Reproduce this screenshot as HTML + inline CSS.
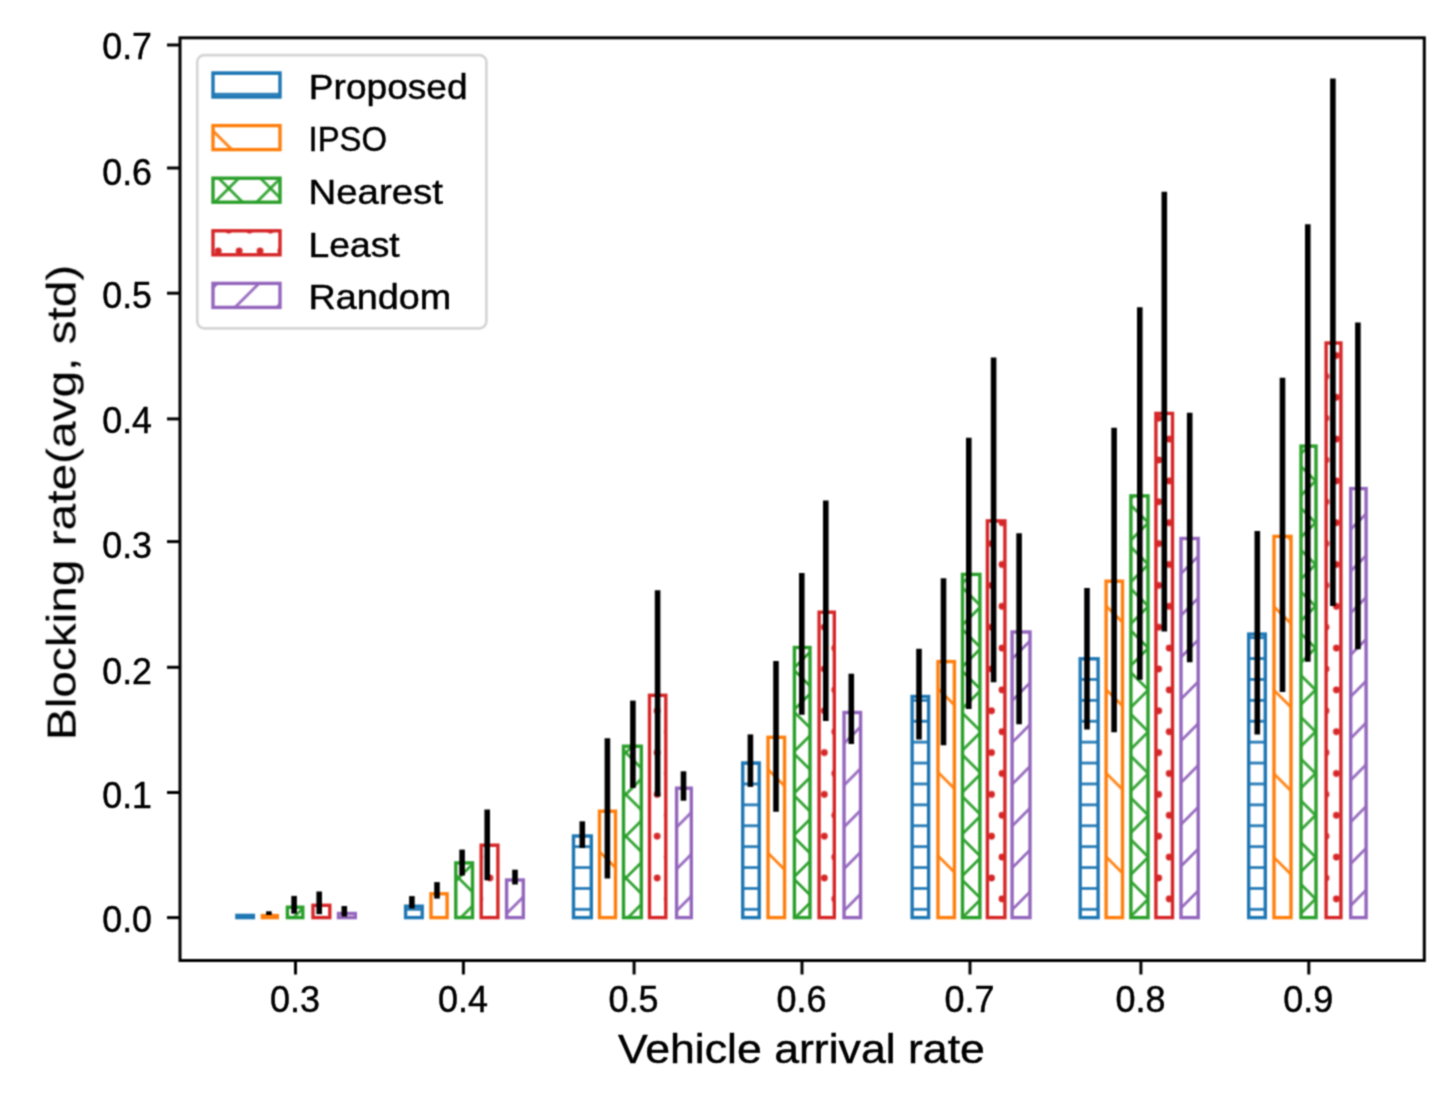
<!DOCTYPE html>
<html><head><meta charset="utf-8"><title>Blocking rate chart</title>
<style>html,body{margin:0;padding:0;background:#fff;}body{width:1455px;height:1100px;overflow:hidden;}svg{display:block;}
text{font-family:"Liberation Sans",sans-serif;}</style></head>
<body>
<svg width="1455" height="1100" viewBox="0 0 1455 1100">
<defs>
<pattern id="hb" patternUnits="userSpaceOnUse" x="1315.5" y="773.5" width="20.9" height="20.9"><line x1="-1" y1="10.45" x2="21.9" y2="10.45" stroke="#1f77b4" stroke-width="2.7"/></pattern>
<pattern id="ho" patternUnits="userSpaceOnUse" x="1315.5" y="773.5" width="83.6" height="83.6"><path d="M-41.8,0 L83.6,125.4 M0,-41.8 L125.4,83.6" stroke="#ff7f0e" stroke-width="2.7" fill="none"/></pattern>
<pattern id="hg" patternUnits="userSpaceOnUse" x="1315.5" y="773.5" width="41.8" height="41.8"><path d="M-20.9,-20.9 L62.7,62.7 M-20.9,20.9 L20.9,62.7 M20.9,-20.9 L62.7,20.9 M-20.9,62.7 L62.7,-20.9 M-20.9,20.9 L20.9,-20.9 M20.9,62.7 L62.7,20.9" stroke="#2ca02c" stroke-width="2.7" fill="none"/></pattern>
<pattern id="hr" patternUnits="userSpaceOnUse" x="1315.5" y="773.5" width="20.9" height="41.8"><g fill="#d62728"><circle cx="0" cy="0" r="3.4"/><circle cx="20.9" cy="0" r="3.4"/><circle cx="0" cy="41.8" r="3.4"/><circle cx="20.9" cy="41.8" r="3.4"/><circle cx="10.45" cy="20.9" r="3.4"/></g></pattern>
<pattern id="hp" patternUnits="userSpaceOnUse" x="1315.5" y="773.5" width="41.8" height="41.8"><path d="M-20.9,62.7 L62.7,-20.9 M-20.9,20.9 L20.9,-20.9 M20.9,62.7 L62.7,20.9" stroke="#9467bd" stroke-width="2.7" fill="none"/></pattern>
</defs>
<filter id="soft" x="0" y="0" width="1455" height="1100" filterUnits="userSpaceOnUse" color-interpolation-filters="sRGB"><feConvolveMatrix order="3" kernelMatrix="0.25 0.5 0.25 0.5 1 0.5 0.25 0.5 0.25" divisor="4" preserveAlpha="false" edgeMode="none"/></filter>
<filter id="softt" x="0" y="0" width="1455" height="1100" filterUnits="userSpaceOnUse" color-interpolation-filters="sRGB"><feConvolveMatrix order="3" kernelMatrix="0.1225 0.35 0.1225 0.35 1 0.35 0.1225 0.35 0.1225" divisor="2.89" preserveAlpha="false" edgeMode="none"/></filter>
<rect x="0" y="0" width="1455" height="1100" fill="#fff"/>
<g filter="url(#soft)">
<rect x="0" y="0" width="1455" height="1100" fill="#fff"/>
<g>
<rect x="236.89" y="915.4" width="16.5" height="2.2" fill="url(#hb)" stroke="#1f77b4" stroke-width="3.4"/>
<rect x="262.4" y="915.6" width="14.9" height="2" fill="url(#ho)" stroke="#ff7f0e" stroke-width="3.4"/>
<rect x="287.4" y="907.2" width="15.4" height="10.4" fill="url(#hg)" stroke="#2ca02c" stroke-width="3.4"/>
<rect x="313" y="905.3" width="16.8" height="12.3" fill="url(#hr)" stroke="#d62728" stroke-width="3.4"/>
<rect x="338.5" y="913.5" width="16.8" height="4.1" fill="url(#hp)" stroke="#9467bd" stroke-width="3.4"/>
<rect x="405.6" y="906.2" width="16.6" height="11.4" fill="url(#hb)" stroke="#1f77b4" stroke-width="3.4"/>
<rect x="431" y="893.8" width="16.1" height="23.8" fill="url(#ho)" stroke="#ff7f0e" stroke-width="3.4"/>
<rect x="455.8" y="862.9" width="16.7" height="54.7" fill="url(#hg)" stroke="#2ca02c" stroke-width="3.4"/>
<rect x="481.2" y="845.2" width="16.7" height="72.4" fill="url(#hr)" stroke="#d62728" stroke-width="3.4"/>
<rect x="506.6" y="880" width="16.7" height="37.6" fill="url(#hp)" stroke="#9467bd" stroke-width="3.4"/>
<rect x="573.5" y="836" width="17.8" height="81.6" fill="url(#hb)" stroke="#1f77b4" stroke-width="3.4"/>
<rect x="599.5" y="811.2" width="16" height="106.4" fill="url(#ho)" stroke="#ff7f0e" stroke-width="3.4"/>
<rect x="623.5" y="746.2" width="17.8" height="171.4" fill="url(#hg)" stroke="#2ca02c" stroke-width="3.4"/>
<rect x="649.5" y="695.3" width="16.3" height="222.3" fill="url(#hr)" stroke="#d62728" stroke-width="3.4"/>
<rect x="676.6" y="788.2" width="14.7" height="129.4" fill="url(#hp)" stroke="#9467bd" stroke-width="3.4"/>
<rect x="742.73" y="763" width="16.5" height="154.6" fill="url(#hb)" stroke="#1f77b4" stroke-width="3.4"/>
<rect x="768.06" y="737.3" width="16.5" height="180.3" fill="url(#ho)" stroke="#ff7f0e" stroke-width="3.4"/>
<rect x="794.4" y="647.5" width="15.6" height="270.1" fill="url(#hg)" stroke="#2ca02c" stroke-width="3.4"/>
<rect x="819.1" y="612.2" width="15.2" height="305.4" fill="url(#hr)" stroke="#d62728" stroke-width="3.4"/>
<rect x="844.05" y="712.5" width="16.5" height="205.1" fill="url(#hp)" stroke="#9467bd" stroke-width="3.4"/>
<rect x="912.11" y="696.5" width="16.5" height="221.1" fill="url(#hb)" stroke="#1f77b4" stroke-width="3.4"/>
<rect x="938" y="661.6" width="16.4" height="256" fill="url(#ho)" stroke="#ff7f0e" stroke-width="3.4"/>
<rect x="962.5" y="574.4" width="17.4" height="343.2" fill="url(#hg)" stroke="#2ca02c" stroke-width="3.4"/>
<rect x="987.4" y="520.9" width="17.5" height="396.7" fill="url(#hr)" stroke="#d62728" stroke-width="3.4"/>
<rect x="1012.1" y="632" width="17.9" height="285.6" fill="url(#hp)" stroke="#9467bd" stroke-width="3.4"/>
<rect x="1080.2" y="658.8" width="17.9" height="258.8" fill="url(#hb)" stroke="#1f77b4" stroke-width="3.4"/>
<rect x="1106.1" y="581.2" width="16.4" height="336.4" fill="url(#ho)" stroke="#ff7f0e" stroke-width="3.4"/>
<rect x="1130.9" y="495.9" width="17.1" height="421.7" fill="url(#hg)" stroke="#2ca02c" stroke-width="3.4"/>
<rect x="1155.9" y="413.4" width="16.6" height="504.2" fill="url(#hr)" stroke="#d62728" stroke-width="3.4"/>
<rect x="1181" y="538.5" width="17.2" height="379.1" fill="url(#hp)" stroke="#9467bd" stroke-width="3.4"/>
<rect x="1248.7" y="634.1" width="16.6" height="283.5" fill="url(#hb)" stroke="#1f77b4" stroke-width="3.4"/>
<rect x="1274" y="536.4" width="17" height="381.2" fill="url(#ho)" stroke="#ff7f0e" stroke-width="3.4"/>
<rect x="1301" y="446.1" width="15" height="471.5" fill="url(#hg)" stroke="#2ca02c" stroke-width="3.4"/>
<rect x="1326.1" y="343" width="14.8" height="574.6" fill="url(#hr)" stroke="#d62728" stroke-width="3.4"/>
<rect x="1350.7" y="488.6" width="15.4" height="429" fill="url(#hp)" stroke="#9467bd" stroke-width="3.4"/>
</g>
<g stroke="#000" stroke-width="5.6"><line x1="268.9" y1="911.3" x2="268.9" y2="915"/>
<line x1="294.1" y1="895.9" x2="294.1" y2="913.7"/>
<line x1="319.2" y1="891.5" x2="319.2" y2="914.2"/>
<line x1="344.3" y1="906" x2="344.3" y2="916.6"/>
<line x1="411.9" y1="896.1" x2="411.9" y2="908.5"/>
<line x1="437" y1="882.1" x2="437" y2="898.6"/>
<line x1="462.1" y1="849.6" x2="462.1" y2="875.6"/>
<line x1="487.2" y1="809.5" x2="487.2" y2="880.3"/>
<line x1="515" y1="869.7" x2="515" y2="884.5"/>
<line x1="582.3" y1="821.3" x2="582.3" y2="848"/>
<line x1="607.4" y1="738.2" x2="607.4" y2="878.5"/>
<line x1="632.9" y1="700.6" x2="632.9" y2="787.9"/>
<line x1="657.6" y1="590.2" x2="657.6" y2="796.5"/>
<line x1="683.5" y1="771.3" x2="683.5" y2="800.7"/>
<line x1="750.4" y1="734.4" x2="750.4" y2="786.9"/>
<line x1="776" y1="660.9" x2="776" y2="811.7"/>
<line x1="801.8" y1="573" x2="801.8" y2="714.8"/>
<line x1="825.8" y1="500.5" x2="825.8" y2="721"/>
<line x1="851.3" y1="673.7" x2="851.3" y2="744"/>
<line x1="919" y1="648.8" x2="919" y2="739.5"/>
<line x1="943.5" y1="578.2" x2="943.5" y2="745.2"/>
<line x1="968.8" y1="437.8" x2="968.8" y2="709"/>
<line x1="993.6" y1="357.6" x2="993.6" y2="682.2"/>
<line x1="1019.1" y1="533.3" x2="1019.1" y2="724.2"/>
<line x1="1087" y1="588.1" x2="1087" y2="729.4"/>
<line x1="1114.1" y1="427.7" x2="1114.1" y2="732.3"/>
<line x1="1139.8" y1="307.3" x2="1139.8" y2="679.8"/>
<line x1="1164.3" y1="191.8" x2="1164.3" y2="631.5"/>
<line x1="1189.7" y1="412.8" x2="1189.7" y2="662.2"/>
<line x1="1257.3" y1="531" x2="1257.3" y2="734.5"/>
<line x1="1282.5" y1="377.8" x2="1282.5" y2="691.9"/>
<line x1="1307.8" y1="224.2" x2="1307.8" y2="661.7"/>
<line x1="1332.9" y1="78.5" x2="1332.9" y2="606"/>
<line x1="1357.9" y1="322.6" x2="1357.9" y2="649.3"/></g>
<rect x="180.0" y="37.8" width="1244.3" height="922.7" fill="none" stroke="#000" stroke-width="3.0"/>
<g stroke="#000" stroke-width="3.0"><line x1="167" y1="917.6" x2="180" y2="917.6"/><line x1="167" y1="792.5" x2="180" y2="792.5"/><line x1="167" y1="667.3" x2="180" y2="667.3"/><line x1="167" y1="541.6" x2="180" y2="541.6"/><line x1="167" y1="418.9" x2="180" y2="418.9"/><line x1="167" y1="293.2" x2="180" y2="293.2"/><line x1="167" y1="168" x2="180" y2="168"/><line x1="167" y1="45" x2="180" y2="45"/><line x1="295.5" y1="960.5" x2="295.5" y2="974.5"/><line x1="463.4" y1="960.5" x2="463.4" y2="974.5"/><line x1="634.1" y1="960.5" x2="634.1" y2="974.5"/><line x1="802" y1="960.5" x2="802" y2="974.5"/><line x1="970" y1="960.5" x2="970" y2="974.5"/><line x1="1140.9" y1="960.5" x2="1140.9" y2="974.5"/><line x1="1308.8" y1="960.5" x2="1308.8" y2="974.5"/></g>
<rect x="197.2" y="55.1" width="289.2" height="273.2" rx="7" ry="7" fill="#fff" fill-opacity="0.8" stroke="#d5d5d5" stroke-width="2.7"/>
<rect x="213" y="73" width="67" height="24" fill="url(#hb)" stroke="#1f77b4" stroke-width="3.4"/>
<rect x="213" y="125.6" width="67" height="24" fill="url(#ho)" stroke="#ff7f0e" stroke-width="3.4"/>
<rect x="213" y="178.2" width="67" height="24" fill="url(#hg)" stroke="#2ca02c" stroke-width="3.4"/>
<rect x="213" y="230.8" width="67" height="24" fill="url(#hr)" stroke="#d62728" stroke-width="3.4"/>
<rect x="213" y="283.4" width="67" height="24" fill="url(#hp)" stroke="#9467bd" stroke-width="3.4"/>
</g>
<g filter="url(#softt)" font-family="Liberation Sans, sans-serif" fill="#000" stroke="#000" stroke-width="0.45">
<text x="102.30" y="932.25" font-size="36.60" textLength="49.70" lengthAdjust="spacingAndGlyphs">0.0</text>
<text x="102.30" y="807.85" font-size="36.60" textLength="49.70" lengthAdjust="spacingAndGlyphs">0.1</text>
<text x="102.30" y="684.15" font-size="36.60" textLength="49.70" lengthAdjust="spacingAndGlyphs">0.2</text>
<text x="102.30" y="558.45" font-size="36.60" textLength="49.70" lengthAdjust="spacingAndGlyphs">0.3</text>
<text x="102.30" y="433.45" font-size="36.60" textLength="49.70" lengthAdjust="spacingAndGlyphs">0.4</text>
<text x="102.30" y="308.15" font-size="36.60" textLength="49.70" lengthAdjust="spacingAndGlyphs">0.5</text>
<text x="102.30" y="185.35" font-size="36.60" textLength="49.70" lengthAdjust="spacingAndGlyphs">0.6</text>
<text x="102.30" y="59.35" font-size="36.60" textLength="49.70" lengthAdjust="spacingAndGlyphs">0.7</text>
<text x="270.00" y="1011.50" font-size="36.60" textLength="50.00" lengthAdjust="spacingAndGlyphs">0.3</text>
<text x="437.90" y="1011.50" font-size="36.60" textLength="50.00" lengthAdjust="spacingAndGlyphs">0.4</text>
<text x="608.60" y="1011.50" font-size="36.60" textLength="50.00" lengthAdjust="spacingAndGlyphs">0.5</text>
<text x="776.50" y="1011.50" font-size="36.60" textLength="50.00" lengthAdjust="spacingAndGlyphs">0.6</text>
<text x="944.50" y="1011.50" font-size="36.60" textLength="50.00" lengthAdjust="spacingAndGlyphs">0.7</text>
<text x="1115.40" y="1011.50" font-size="36.60" textLength="50.00" lengthAdjust="spacingAndGlyphs">0.8</text>
<text x="1283.30" y="1011.50" font-size="36.60" textLength="50.00" lengthAdjust="spacingAndGlyphs">0.9</text>
<text x="617.90" y="1063.00" font-size="40.37" textLength="367.00" lengthAdjust="spacingAndGlyphs">Vehicle arrival rate</text>
<text transform="translate(75.60,740.20) rotate(-90)" x="0" y="0" font-size="41.30" textLength="475.50" lengthAdjust="spacingAndGlyphs" stroke-width="0.15">Blocking rate(avg, std)</text>
<text x="308.80" y="99.00" font-size="34.60" textLength="158.80" lengthAdjust="spacingAndGlyphs">Proposed</text>
<text x="308.50" y="150.70" font-size="34.60" textLength="78.60" lengthAdjust="spacingAndGlyphs">IPSO</text>
<text x="308.50" y="204.10" font-size="34.60" textLength="134.50" lengthAdjust="spacingAndGlyphs">Nearest</text>
<text x="308.50" y="256.90" font-size="34.60" textLength="91.20" lengthAdjust="spacingAndGlyphs">Least</text>
<text x="308.50" y="309.30" font-size="34.60" textLength="142.70" lengthAdjust="spacingAndGlyphs">Random</text>
</g>
</svg>
</body></html>
